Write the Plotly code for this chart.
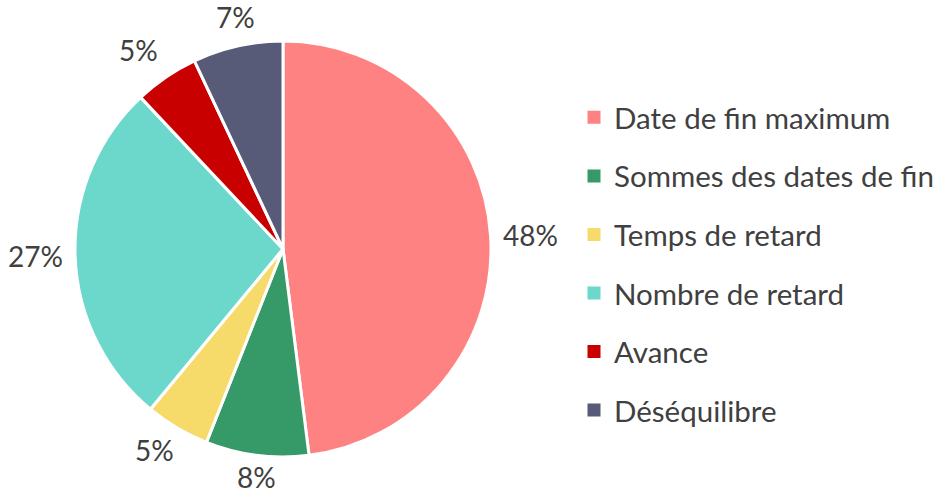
import math
import plotly.graph_objects as go

labels = ["Date de fin maximum", "Sommes des dates de fin", "Temps de retard",
          "Nombre de retard", "Avance", "Déséquilibre"]
values = [48, 8, 5, 27, 5, 7]
colors = ["#FF8282", "#369A68", "#F6DA6A", "#6CD8CC", "#C80000", "#585B78"]

FONT = "Lato, 'Open Sans', sans-serif"
TEXT = "#404040"
W, H = 939, 493

# pie box in paper fractions
dom_x = [75 / W, 491 / W]
dom_y = [36 / H, 452 / H]

fig = go.Figure()
fig.add_trace(go.Pie(
    labels=labels,
    values=values,
    marker=dict(colors=colors, line=dict(color="white", width=3)),
    sort=False,
    direction="clockwise",
    rotation=0,
    textinfo="none",
    showlegend=False,
    domain=dict(x=dom_x, y=dom_y),
    hoverinfo="label+percent",
))

# percentage labels just outside each slice, along its mid angle
cx_px = (dom_x[0] + dom_x[1]) / 2 * W
cy_px = (dom_y[0] + dom_y[1]) / 2 * H
radius = min((dom_x[1] - dom_x[0]) * W, (dom_y[1] - dom_y[0]) * H) / 2
total = sum(values)
cum = 0
for v in values:
    mid = (cum + v / 2) / total * 2 * math.pi
    cum += v
    s, c = math.sin(mid), math.cos(mid)
    gap = 3 if c < -0.3 else 10
    px = cx_px + (radius + gap) * s
    py = cy_px + (radius + gap) * c
    xa = "left" if s > 0.3 else ("right" if s < -0.3 else "center")
    ya = "bottom" if c > 0.3 else ("top" if c < -0.3 else "middle")
    fig.add_annotation(
        x=px / W, y=py / H, xref="paper", yref="paper",
        text=f"{round(v / total * 100)}%", showarrow=False,
        xanchor=xa, yanchor=ya,
        font=dict(family=FONT, size=28, color=TEXT),
    )

# legend entries as square markers, one group each for spacing
for name, col in zip(labels, colors):
    fig.add_trace(go.Scatter(
        x=[None], y=[None], mode="markers", name=name,
        legendgroup=name,
        marker=dict(symbol="square", size=13, color=col),
    ))

fig.update_layout(
    width=W, height=H,
    margin=dict(l=0, r=0, t=0, b=0, autoexpand=False),
    paper_bgcolor="white", plot_bgcolor="white",
    xaxis=dict(visible=False), yaxis=dict(visible=False),
    legend=dict(x=0.6113, y=0.814, xanchor="left", yanchor="top",
                font=dict(family=FONT, size=29.5, color=TEXT),
                tracegroupgap=17.2, itemwidth=30),
)

fig.write_html("out.html")
